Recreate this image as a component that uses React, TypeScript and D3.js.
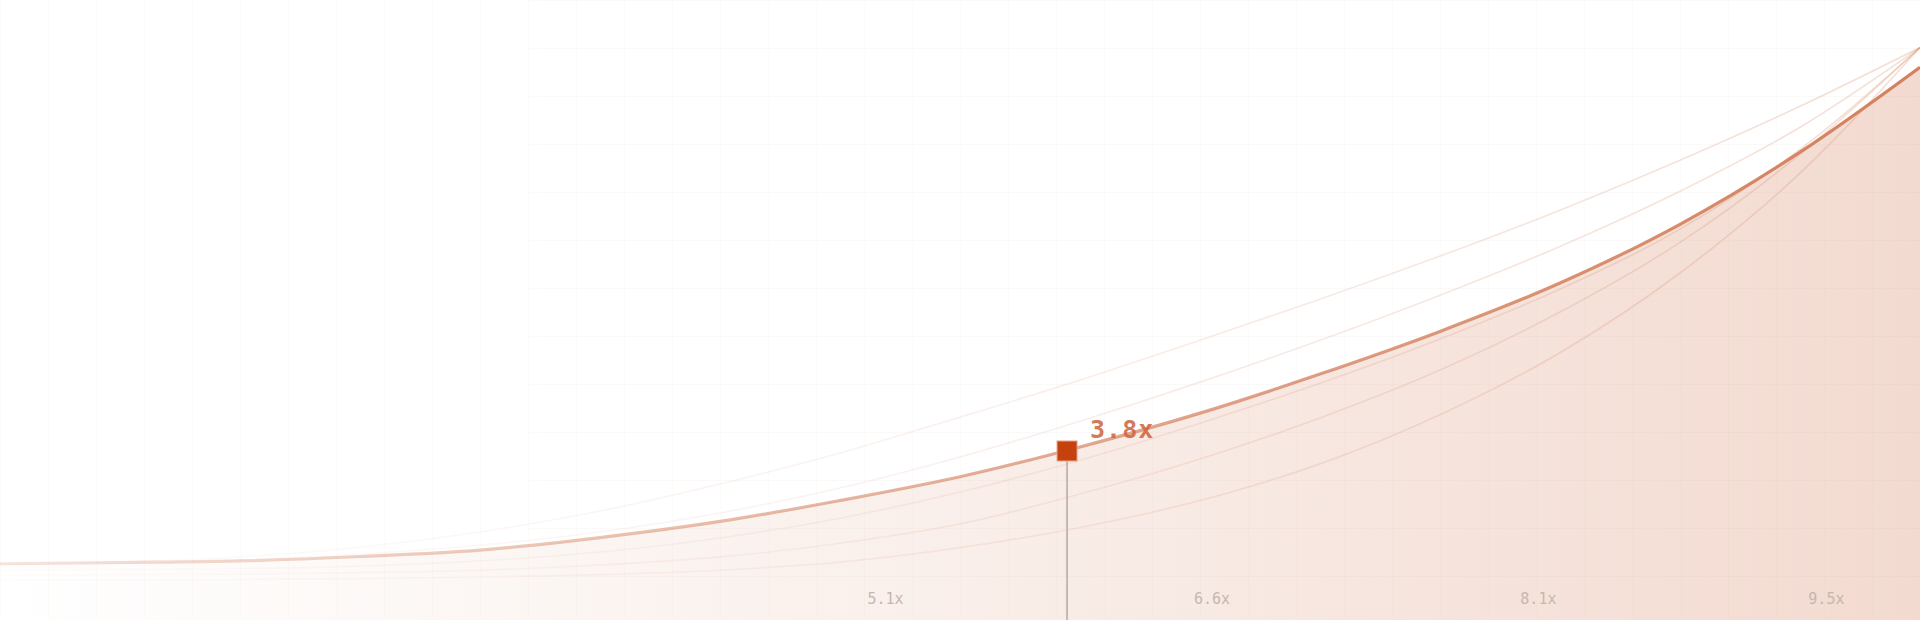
import { useEffect, useRef } from 'react';
import * as d3 from 'd3';

// sample positions along the horizon (one step = one 48px grid cell)
const sampleSteps = [0, 2.5, 5, 7.5, 10, 12.5, 15, 17.5, 20, 22.5, 25, 27.5, 30, 32.5, 35, 37.5, 40];

// multiplier values
const mainValues = [1.0, 1.03, 1.07, 1.18, 1.34, 1.65, 2.05, 2.57, 3.16, 3.9, 4.74, 5.71, 6.77, 7.97, 9.43, 11.22, 13.33];
const scenarioA = [0.99, 1.04, 1.17, 1.41, 1.79, 2.31, 2.98, 3.75, 4.64, 5.56, 6.55, 7.57, 8.64, 9.78, 11.02, 12.36, 13.82];
const scenarioB = [0.97, 1.0, 1.09, 1.24, 1.46, 1.79, 2.26, 2.88, 3.65, 4.54, 5.51, 6.55, 7.67, 8.88, 10.25, 11.84, 13.82];
const scenarioC = [0.84, 0.86, 0.88, 0.94, 1.07, 1.29, 1.64, 2.13, 2.78, 3.57, 4.49, 5.48, 6.58, 7.82, 9.31, 11.29, 13.82];
const scenarioD = [0.72, 0.73, 0.74, 0.78, 0.84, 0.97, 1.17, 1.51, 1.99, 2.73, 3.6, 4.62, 5.81, 7.25, 8.98, 11.17, 13.82];
const scenarioE = [0.6, 0.6, 0.61, 0.63, 0.67, 0.73, 0.84, 1.04, 1.4, 1.9, 2.57, 3.48, 4.7, 6.24, 8.22, 10.7, 13.82];

const tickSteps = [18.45, 25.25, 32.05, 38.05];
const tickLabels = ['5.1x', '6.6x', '8.1x', '9.5x'];

const markerStep = 22.23;
const markerValue = 3.8;

const WIDTH = 1920;
const HEIGHT = 620;
const ACCENT = '#d4805c';
const MONO = '"DejaVu Sans Mono", "Liberation Mono", monospace';

export default function App() {
  const svgRef = useRef<SVGSVGElement>(null);

  useEffect(() => {
    if (!svgRef.current) return;
    const svg = d3.select(svgRef.current);
    svg.selectAll('*').remove();

    const x = d3.scaleLinear().domain([0, 40]).range([0, WIDTH]);
    const y = d3.scaleLinear().domain([0, 15]).range([604, 0]);

    const defs = svg.append('defs');
    const grad = (id: string, color: string, stops: [number, number][]) => {
      const g = defs
        .append('linearGradient')
        .attr('id', id)
        .attr('gradientUnits', 'userSpaceOnUse')
        .attr('x1', 0)
        .attr('x2', WIDTH)
        .attr('y1', 0)
        .attr('y2', 0);
      stops.forEach(([o, op]) => {
        g.append('stop').attr('offset', o).attr('stop-color', color).attr('stop-opacity', op);
      });
    };
    grad('mainFade', ACCENT, [[0, 0.2], [0.4, 0.55], [1, 1]]);
    grad('ghostFade', ACCENT, [[0, 0.02], [0.45, 0.1], [1, 0.26]]);
    grad('areaFade', ACCENT, [[0, 0], [0.5, 0.13], [1, 0.29]]);
    grad('gridFade', '#7a5a4a', [[0.265, 0], [0.285, 0.03], [1, 0.035]]);

    svg.append('rect').attr('width', WIDTH).attr('height', HEIGHT).attr('fill', '#ffffff');

    // Grid (48px cells)
    const grid = svg.append('g');
    grid
      .selectAll('line.v')
      .data(d3.range(0, 41))
      .join('line')
      .attr('class', 'v')
      .attr('x1', (d) => x(d) + 0.5)
      .attr('x2', (d) => x(d) + 0.5)
      .attr('y1', 0)
      .attr('y2', HEIGHT)
      .attr('stroke', '#7a5a4a')
      .attr('stroke-opacity', 0.018)
      .attr('stroke-width', 1);
    grid
      .selectAll('line.h')
      .data(d3.range(0, 13))
      .join('line')
      .attr('class', 'h')
      .attr('x1', 0)
      .attr('x2', WIDTH)
      .attr('y1', (d) => d * 48 + 0.5)
      .attr('y2', (d) => d * 48 + 0.5)
      .attr('stroke', 'url(#gridFade)')
      .attr('stroke-width', 1);

    const toPoints = (vals: number[]) => sampleSteps.map((s, i) => [s, vals[i]] as [number, number]);

    const line = d3
      .line<[number, number]>()
      .x((d) => x(d[0]))
      .y((d) => y(d[1]))
      .curve(d3.curveMonotoneX);

    const area = d3
      .area<[number, number]>()
      .x((d) => x(d[0]))
      .y0(HEIGHT)
      .y1((d) => y(d[1]))
      .curve(d3.curveMonotoneX);

    // Area under the main path
    svg.append('path').datum(toPoints(mainValues)).attr('d', area).attr('fill', 'url(#areaFade)');

    // Scenario ghosts
    [scenarioA, scenarioB, scenarioC, scenarioD, scenarioE].forEach((vals) => {
      svg
        .append('path')
        .datum(toPoints(vals))
        .attr('d', line)
        .attr('fill', 'none')
        .attr('stroke', 'url(#ghostFade)')
        .attr('stroke-width', 1.6);
    });

    // Main path
    svg
      .append('path')
      .datum(toPoints(mainValues))
      .attr('d', line)
      .attr('fill', 'none')
      .attr('stroke', 'url(#mainFade)')
      .attr('stroke-width', 3.2);

    // Marker drop line, square and label
    const mx = x(markerStep);
    const my = y(markerValue);
    svg
      .append('line')
      .attr('x1', mx)
      .attr('x2', mx)
      .attr('y1', my + 10)
      .attr('y2', HEIGHT)
      .attr('stroke', '#b5a8a2')
      .attr('stroke-width', 1.5);
    svg
      .append('rect')
      .attr('x', mx - 10)
      .attr('y', my - 10)
      .attr('width', 20)
      .attr('height', 20)
      .attr('fill', '#c5420f')
      .attr('stroke', '#eaa486')
      .attr('stroke-width', 1);
    svg
      .append('text')
      .attr('x', mx + 23)
      .attr('y', my - 13)
      .attr('font-family', MONO)
      .attr('font-size', 25)
      .attr('font-weight', 700)
      .attr('letter-spacing', 1)
      .attr('fill', '#cf6641')
      .attr('fill-opacity', 0.88)
      .text(`${markerValue.toFixed(1)}x`);

    // Bottom tick labels
    svg
      .append('g')
      .selectAll('text')
      .data(tickSteps)
      .join('text')
      .attr('x', (d) => x(d))
      .attr('y', 604)
      .attr('text-anchor', 'middle')
      .attr('font-family', MONO)
      .attr('font-size', 15)
      .attr('fill', '#c6b7b0')
      .text((_, i) => tickLabels[i]);
  }, []);

  return (
    <svg
      ref={svgRef}
      width={WIDTH}
      height={HEIGHT}
      style={{ position: 'absolute', left: 0, top: 0, display: 'block' }}
    />
  );
}
